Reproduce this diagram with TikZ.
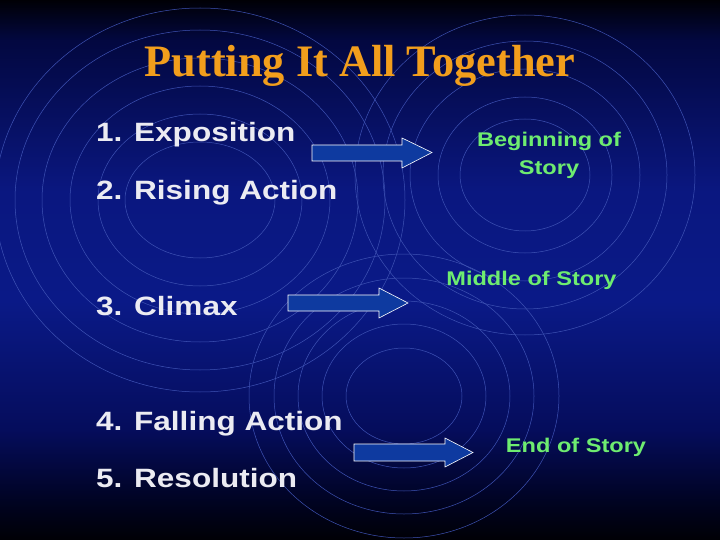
\documentclass[tikz,border=0pt]{standalone}
\usepackage{fontspec}
\newfontfamily\arialfont[FakeStretch=1.19]{Liberation Sans}
\newfontfamily\timesfont[FakeStretch=0.985]{Liberation Serif}
\definecolor{ringcol}{RGB}{62,82,180}
\definecolor{titleorange}{RGB}{242,158,28}
\definecolor{storygreen}{RGB}{110,236,112}
\definecolor{itemwhite}{RGB}{235,235,242}
\definecolor{arrowblue}{RGB}{14,58,160}
\pgfdeclareverticalshading{slidebg}{100bp}{%
  rgb(0bp)=(0,0,0.02);
  rgb(25bp)=(0,0,0.02);
  rgb(28.2bp)=(0,0.01,0.12);
  rgb(35.2bp)=(0.02,0.05,0.36);
  rgb(47.2bp)=(0.04,0.10,0.53);
  rgb(57.4bp)=(0.04,0.09,0.50);
  rgb(71.3bp)=(0.01,0.03,0.25);
  rgb(75bp)=(0,0,0.02);
  rgb(100bp)=(0,0,0.02)}
\tikzset{
  ring/.style={draw=ringcol, line width=0.5pt},
  item/.style={anchor=base west, inner sep=0pt, text=itemwhite,
    font=\arialfont\bfseries\fontsize{26.5}{30}\selectfont},
  story/.style={anchor=base, inner sep=0pt, text=storygreen, align=center,
    font=\arialfont\bfseries\fontsize{19.8}{28.3}\selectfont},
  blockarrow/.style={fill=arrowblue, draw=white, line width=0.6pt, line join=miter}
}
\begin{document}
\begin{tikzpicture}[x=1pt,y=-1pt]
\useasboundingbox (0,0) rectangle (720,540);
% background
\shade[shading=slidebg] (0,0) rectangle (720,540);
% background rings
\begin{scope}
\clip (0,0) rectangle (720,540);
\foreach \rx/\ry in {75/58,102/86,130/114,158/142,185/170,205/192}
  \draw[ring] (200,200) ellipse [x radius=\rx, y radius=\ry];
\foreach \rx/\ry in {65/56,87/78,115/106,142/134,170/160}
  \draw[ring] (525,175) ellipse [x radius=\rx, y radius=\ry];
\foreach \rx/\ry in {58/48,82/72,106/95,130/118,155/142}
  \draw[ring] (404,396) ellipse [x radius=\rx, y radius=\ry];
\end{scope}
% title
\node[anchor=base, inner sep=0pt, text=titleorange,
  font=\timesfont\bfseries\fontsize{45}{50}\selectfont] (title) at (360,77) {Putting It All Together};
% items
\node[item] (i1) at (96,142) {1. Exposition};
\node[item] (i2) at (96,199.5) {2. Rising Action};
\node[item] (i3) at (96,315.5) {3. Climax};
\node[item] (i4) at (96,430.5) {4. Falling Action};
\node[item] (i5) at (96,487.5) {5. Resolution};
% story labels
\node[story] (beg) at (549,175) {Beginning of\\Story};
\node[story] (mid) at (531.5,285) {Middle of Story};
\node[story] (end) at (576,452.5) {End of Story};
% block arrows
\draw[blockarrow] (312,145) -- (402,145) -- (402,138) -- (432,152.5) -- (402,168) -- (402,161) -- (312,161) -- cycle;
\draw[blockarrow] (288,295) -- (379,295) -- (379,288) -- (408,303) -- (379,318) -- (379,311) -- (288,311) -- cycle;
\draw[blockarrow] (354,444) -- (445,444) -- (445,438) -- (473,452.5) -- (445,467) -- (445,461) -- (354,461) -- cycle;
\end{tikzpicture}
\end{document}
